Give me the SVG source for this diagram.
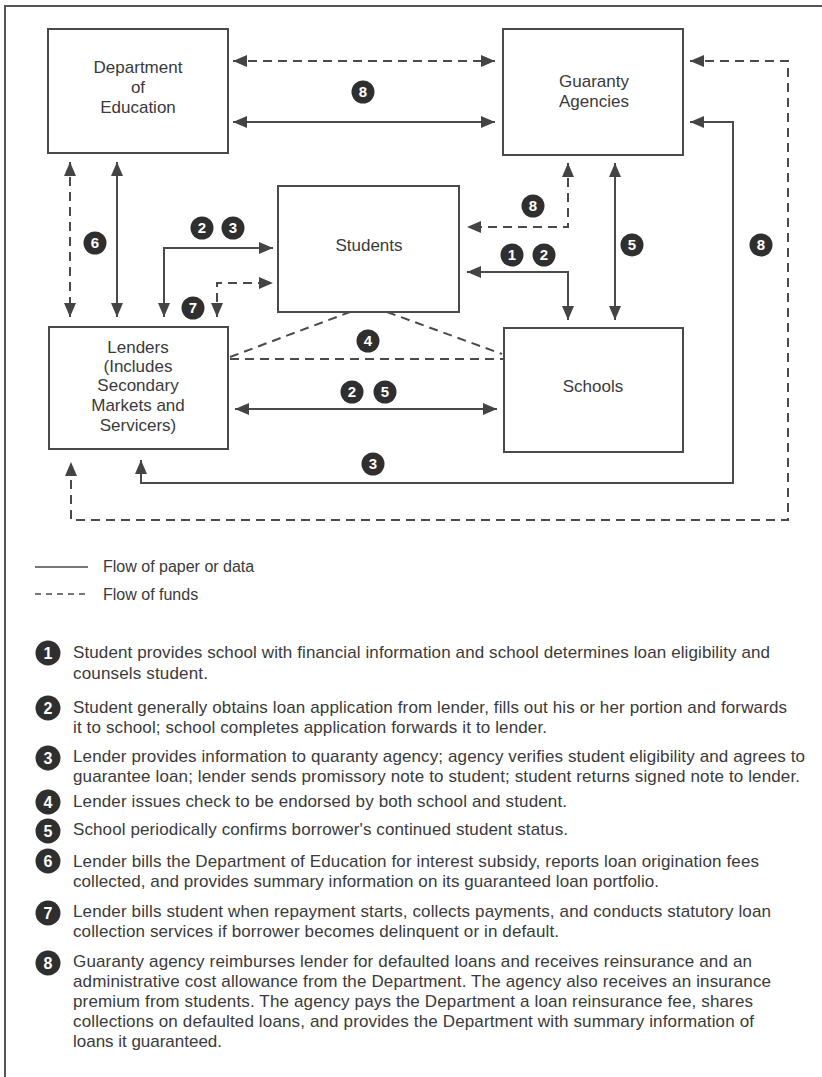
<svg xmlns="http://www.w3.org/2000/svg" width="822" height="1077" viewBox="0 0 822 1077">
<defs>
<marker id="ah" viewBox="0 0 14 12" refX="14" refY="6" markerWidth="14" markerHeight="12" markerUnits="userSpaceOnUse" orient="auto-start-reverse">
<path d="M0,0 L14,6 L0,12 z" fill="#444"/>
</marker>
<style>
.box{fill:#fff;stroke:#4a4a4a;stroke-width:2}
.lbl{font-family:"Liberation Sans",Arial,sans-serif;font-size:17px;fill:#3a3a3a;text-anchor:middle}
.s{fill:none;stroke:#4a4a4a;stroke-width:2}
.d{fill:none;stroke:#4a4a4a;stroke-width:2;stroke-dasharray:9 6}
.a{marker-start:url(#ah);marker-end:url(#ah)}
.badge circle{fill:#2f2f2f}
.badge text{font-family:"Liberation Sans",Arial,sans-serif;font-size:15px;font-weight:bold;fill:#fff;text-anchor:middle}
.nb circle{fill:#2f2f2f}
.nb text{font-family:"Liberation Sans",Arial,sans-serif;font-size:16px;font-weight:bold;fill:#fff;text-anchor:middle}
.txt{font-family:"Liberation Sans",Arial,sans-serif;font-size:17px;fill:#3a3a3a}
.leg{font-family:"Liberation Sans",Arial,sans-serif;font-size:16px;fill:#3a3a3a}
</style>
</defs>
<rect width="822" height="1077" fill="#fff"/>
<path d="M5,1077 V6 H822" fill="none" stroke="#555" stroke-width="2"/>

<g id="connectors">
<path class="d a" d="M233,61 H495"/>
<path class="s a" d="M233,122 H495"/>
<path class="d a" d="M70,162 V317"/>
<path class="s a" d="M117,162 V317"/>
<path class="s a" d="M164,317 V248 H273"/>
<path class="d a" d="M217,317 V283 H273"/>
<path class="d a" d="M568,163 V227 H467"/>
<path class="s a" d="M467,272 H568 V320"/>
<path class="s a" d="M615,163 V320"/>
<path class="s a" d="M690,122 H733 V483 H141 V460"/>
<path class="d a" d="M690,61 H788 V520 H71 V462"/>
<path class="d" d="M230,357 L350,312"/>
<path class="d" d="M230,359 H504"/>
<path class="d" d="M387,312 L502,354"/>
<path class="s a" d="M235,409 H497"/>
</g>

<g id="node-doe">
<rect class="box" x="48" y="29" width="180" height="124"/>
<text class="lbl" x="138" y="73">Department</text>
<text class="lbl" x="138" y="93">of</text>
<text class="lbl" x="138" y="113">Education</text>
</g>
<g id="node-guaranty">
<rect class="box" x="503" y="29" width="180" height="126"/>
<text class="lbl" x="594" y="87">Guaranty</text>
<text class="lbl" x="594" y="107">Agencies</text>
</g>
<g id="node-students">
<rect class="box" x="278" y="186" width="181" height="126"/>
<text class="lbl" x="369" y="251">Students</text>
</g>
<g id="node-lenders">
<rect class="box" x="49" y="327" width="179" height="122"/>
<text class="lbl" x="138" y="353">Lenders</text>
<text class="lbl" x="138" y="372">(Includes</text>
<text class="lbl" x="138" y="391">Secondary</text>
<text class="lbl" x="138" y="411">Markets and</text>
<text class="lbl" x="138" y="431">Servicers)</text>
</g>
<g id="node-schools">
<rect class="box" x="504" y="328" width="179" height="124"/>
<text class="lbl" x="593" y="392">Schools</text>
</g>

<g id="badges" class="badge">
<circle cx="363" cy="92" r="11.5"/><text x="363" y="97">8</text>
<circle cx="95" cy="243" r="11.5"/><text x="95" y="248">6</text>
<circle cx="202" cy="228" r="11.5"/><text x="202" y="233">2</text>
<circle cx="233" cy="228" r="11.5"/><text x="233" y="233">3</text>
<circle cx="193" cy="308" r="11.5"/><text x="193" y="313">7</text>
<circle cx="533" cy="206" r="11.5"/><text x="533" y="211">8</text>
<circle cx="512" cy="255" r="11.5"/><text x="512" y="260">1</text>
<circle cx="544" cy="255" r="11.5"/><text x="544" y="260">2</text>
<circle cx="632" cy="245" r="11.5"/><text x="632" y="250">5</text>
<circle cx="761" cy="245" r="11.5"/><text x="761" y="250">8</text>
<circle cx="368" cy="341" r="11.5"/><text x="368" y="346">4</text>
<circle cx="352" cy="392" r="11.5"/><text x="352" y="397">2</text>
<circle cx="385" cy="392" r="11.5"/><text x="385" y="397">5</text>
<circle cx="373" cy="464" r="11.5"/><text x="373" y="469">3</text>
</g>

<g id="legend">
<path d="M35,567 H88" stroke="#4a4a4a" stroke-width="1.5"/>
<path d="M35,594 H88" stroke="#4a4a4a" stroke-width="1.5" stroke-dasharray="6 5"/>
<text class="leg" x="103" y="572">Flow of paper or data</text>
<text class="leg" x="103" y="600">Flow of funds</text>
</g>

<g id="notes">
<g class="nb">
<circle cx="48" cy="653" r="12.5"/><text x="48" y="659">1</text>
<circle cx="48" cy="708" r="12.5"/><text x="48" y="714">2</text>
<circle cx="48" cy="758" r="12.5"/><text x="48" y="764">3</text>
<circle cx="48" cy="802" r="12.5"/><text x="48" y="808">4</text>
<circle cx="48" cy="831" r="12.5"/><text x="48" y="837">5</text>
<circle cx="48" cy="861" r="12.5"/><text x="48" y="867">6</text>
<circle cx="48" cy="913" r="12.5"/><text x="48" y="919">7</text>
<circle cx="48" cy="963" r="12.5"/><text x="48" y="969">8</text>
</g>
<text class="txt" x="73" y="658" textLength="697">Student provides school with financial information and school determines loan eligibility and</text>
<text class="txt" x="73" y="679" textLength="135">counsels student.</text>
<text class="txt" x="73" y="713" textLength="714">Student generally obtains loan application from lender, fills out his or her portion and forwards</text>
<text class="txt" x="73" y="733" textLength="474">it to school; school completes application forwards it to lender.</text>
<text class="txt" x="73" y="762" textLength="732">Lender provides information to quaranty agency; agency verifies student eligibility and agrees to</text>
<text class="txt" x="73" y="782" textLength="727">guarantee loan; lender sends promissory note to student; student returns signed note to lender.</text>
<text class="txt" x="73" y="807" textLength="494">Lender issues check to be endorsed by both school and student.</text>
<text class="txt" x="73" y="835" textLength="495">School periodically confirms borrower's continued student status.</text>
<text class="txt" x="73" y="867" textLength="686">Lender bills the Department of Education for interest subsidy, reports loan origination fees</text>
<text class="txt" x="73" y="887" textLength="586">collected, and provides summary information on its guaranteed loan portfolio.</text>
<text class="txt" x="73" y="917" textLength="698">Lender bills student when repayment starts, collects payments, and conducts statutory loan</text>
<text class="txt" x="73" y="937" textLength="486">collection services if borrower becomes delinquent or in default.</text>
<text class="txt" x="73" y="967" textLength="679">Guaranty agency reimburses lender for defaulted loans and receives reinsurance and an</text>
<text class="txt" x="73" y="987" textLength="698">administrative cost allowance from the Department. The agency also receives an insurance</text>
<text class="txt" x="73" y="1007" textLength="680">premium from students. The agency pays the Department a loan reinsurance fee, shares</text>
<text class="txt" x="73" y="1027" textLength="681">collections on defaulted loans, and provides the Department with summary information of</text>
<text class="txt" x="73" y="1047" textLength="149">loans it guaranteed.</text>
</g>
</svg>
